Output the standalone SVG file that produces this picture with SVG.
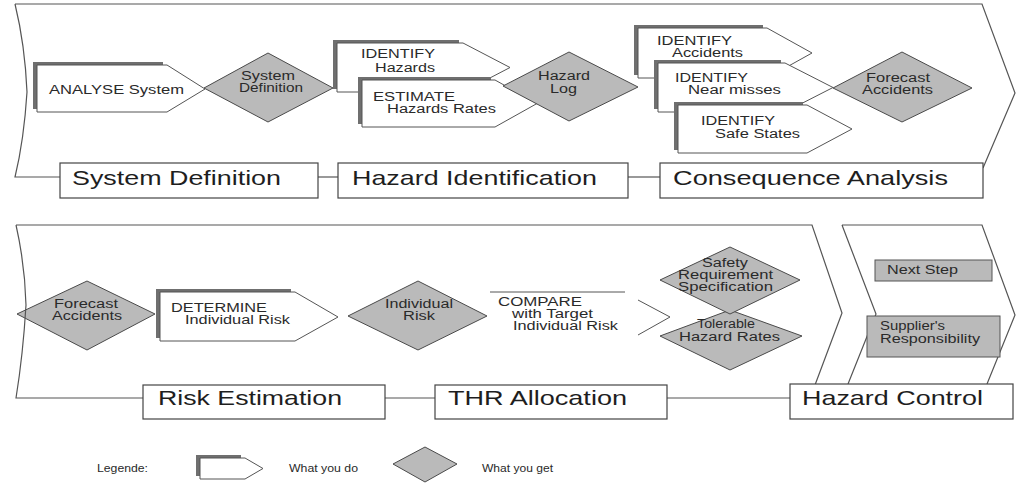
<svg xmlns="http://www.w3.org/2000/svg" width="1024" height="485" viewBox="0 0 1024 485">
<style>
text{font-family:"Liberation Sans",Arial,sans-serif;fill:#2a2a2a}
.s{font-size:12px}
.b{font-size:21px;fill:#1e1e1e}
.l{font-size:10px}
.frame{fill:none;stroke:#555;stroke-width:1.2}
.lab{fill:#fff;stroke:#444;stroke-width:1.2}
.do{fill:#fff;stroke:#555;stroke-width:1}
.sh{fill:#6f6f6f}
.get{fill:#bababa;stroke:#4a4a4a;stroke-width:1}
.gbox{fill:#bababa;stroke:#555;stroke-width:1}
.conn{stroke:#555;stroke-width:1.2;fill:none}
</style>
<rect width="1024" height="485" fill="#fff"/>

<!-- bottom-left forecast diamond (frame line shows through it) -->
<g id="n-forecast2">
<polygon class="get" points="17,314 87,281 155,314 87,350"/>
<text class="s" x="54" y="308" textLength="64" lengthAdjust="spacingAndGlyphs">Forecast</text>
<text class="s" x="52" y="320" textLength="70" lengthAdjust="spacingAndGlyphs">Accidents</text>
</g>

<g id="frames">
<path class="frame" d="M15,4 L982,4 L1015,93 L983,168 M15,4 Q25,45 27,92 Q24,140 15,177 L60,177"/>
<path class="frame" d="M16,225 L812,225 L842,313 L815,385 M16,225 Q25,265 26,305 Q23,355 16,398 L143,398"/>
<path class="frame" d="M842,225 L982,225 L1015,315 L987,384 M842,225 L876,314 L848,384"/>
</g>

<g id="connectors">
<line class="conn" x1="318" y1="177" x2="338" y2="177"/>
<line class="conn" x1="628" y1="177" x2="660" y2="177"/>
<line class="conn" x1="385" y1="398" x2="435" y2="398"/>
<line class="conn" x1="667" y1="398" x2="790" y2="398"/>
</g>

<!-- stage labels -->
<g id="stage-system-definition">
<rect class="lab" x="60" y="163" width="258" height="35"/>
<text class="b" x="72" y="185" textLength="209" lengthAdjust="spacingAndGlyphs">System Definition</text>
</g>
<g id="stage-hazard-identification">
<rect class="lab" x="338" y="163" width="290" height="35"/>
<text class="b" x="352" y="185" textLength="245" lengthAdjust="spacingAndGlyphs">Hazard Identification</text>
</g>
<g id="stage-consequence-analysis">
<rect class="lab" x="660" y="163" width="323" height="35"/>
<text class="b" x="673" y="185" textLength="275" lengthAdjust="spacingAndGlyphs">Consequence Analysis</text>
</g>
<g id="stage-risk-estimation">
<rect class="lab" x="143" y="385" width="242" height="34"/>
<text class="b" x="158" y="405" textLength="184" lengthAdjust="spacingAndGlyphs">Risk Estimation</text>
</g>
<g id="stage-thr-allocation">
<rect class="lab" x="435" y="385" width="232" height="34"/>
<text class="b" x="448" y="405" textLength="179" lengthAdjust="spacingAndGlyphs">THR Allocation</text>
</g>
<g id="stage-hazard-control">
<rect class="lab" x="790" y="384" width="223" height="35"/>
<text class="b" x="802" y="405" textLength="181" lengthAdjust="spacingAndGlyphs">Hazard Control</text>
</g>

<!-- top row -->
<g id="n-analyse">
<rect class="sh" x="33" y="62" width="130" height="47"/>
<polygon class="do" points="37,65 167,65 205,89 167,112 37,112"/>
<text class="s" x="49" y="94" textLength="135" lengthAdjust="spacingAndGlyphs">ANALYSE System</text>
</g>
<g id="n-sysdef">
<polygon class="get" points="204,88 268,53 333,88 268,122"/>
<text class="s" x="241" y="80" textLength="54" lengthAdjust="spacingAndGlyphs">System</text>
<text class="s" x="239" y="92" textLength="64" lengthAdjust="spacingAndGlyphs">Definition</text>
</g>
<g id="n-identify-hazards">
<rect class="sh" x="333" y="40" width="126" height="49"/>
<polygon class="do" points="337,43 463,43 510,67.5 463,92 337,92"/>
<text class="s" x="361" y="58" textLength="74" lengthAdjust="spacingAndGlyphs">IDENTIFY</text>
<text class="s" x="375" y="72" textLength="60" lengthAdjust="spacingAndGlyphs">Hazards</text>
</g>
<g id="n-estimate">
<rect class="sh" x="358" y="77" width="133" height="47"/>
<polygon class="do" points="362,80 495,80 537,103.5 495,127 362,127"/>
<text class="s" x="373" y="101" textLength="82" lengthAdjust="spacingAndGlyphs">ESTIMATE</text>
<text class="s" x="387" y="113" textLength="109" lengthAdjust="spacingAndGlyphs">Hazards Rates</text>
</g>
<g id="n-hazard-log">
<polygon class="get" points="503,86 569,52 638,87 569,121"/>
<text class="s" x="538" y="80" textLength="52" lengthAdjust="spacingAndGlyphs">Hazard</text>
<text class="s" x="550" y="93" textLength="27" lengthAdjust="spacingAndGlyphs">Log</text>
</g>
<g id="n-identify-accidents">
<rect class="sh" x="634" y="25" width="129" height="50"/>
<polygon class="do" points="638,28 767,28 812,53 767,78 638,78"/>
<text class="s" x="657" y="45" textLength="75" lengthAdjust="spacingAndGlyphs">IDENTIFY</text>
<text class="s" x="672" y="57" textLength="71" lengthAdjust="spacingAndGlyphs">Accidents</text>
</g>
<g id="n-identify-near-misses">
<rect class="sh" x="654" y="60" width="127" height="49"/>
<polygon class="do" points="658,63 785,63 833,87.5 785,112 658,112"/>
<text class="s" x="675" y="82" textLength="73" lengthAdjust="spacingAndGlyphs">IDENTIFY</text>
<text class="s" x="688" y="94" textLength="93" lengthAdjust="spacingAndGlyphs">Near misses</text>
</g>
<g id="n-identify-safe-states">
<rect class="sh" x="674" y="102" width="129" height="48"/>
<polygon class="do" points="678,105 807,105 852,129 807,153 678,153"/>
<text class="s" x="701" y="125" textLength="74" lengthAdjust="spacingAndGlyphs">IDENTIFY</text>
<text class="s" x="715" y="138" textLength="85" lengthAdjust="spacingAndGlyphs">Safe States</text>
</g>
<g id="n-forecast1">
<polygon class="get" points="833,88 902,52 972,88 902,122"/>
<text class="s" x="866" y="82" textLength="64" lengthAdjust="spacingAndGlyphs">Forecast</text>
<text class="s" x="862" y="94" textLength="71" lengthAdjust="spacingAndGlyphs">Accidents</text>
</g>

<!-- bottom row -->
<g id="n-determine">
<rect class="sh" x="156" y="289" width="135" height="49"/>
<polygon class="do" points="160,292 295,292 338,317 295,341 160,341"/>
<text class="s" x="171" y="312" textLength="96" lengthAdjust="spacingAndGlyphs">DETERMINE</text>
<text class="s" x="185" y="324" textLength="105" lengthAdjust="spacingAndGlyphs">Individual Risk</text>
</g>
<g id="n-individual-risk">
<polygon class="get" points="348,316 418,281 487,316 418,350"/>
<text class="s" x="385" y="308" textLength="68" lengthAdjust="spacingAndGlyphs">Individual</text>
<text class="s" x="403" y="320" textLength="32" lengthAdjust="spacingAndGlyphs">Risk</text>
</g>
<g id="n-compare">
<polygon points="490,292 625,292 670,317 625,342 490,342" fill="#fff"/>
<path d="M490,292 L625,292 M638,300 L670,317 L638,335" fill="none" stroke="#555" stroke-width="1"/>
<text class="s" x="498" y="306" textLength="84" lengthAdjust="spacingAndGlyphs">COMPARE</text>
<text class="s" x="512" y="318" textLength="81" lengthAdjust="spacingAndGlyphs">with Target</text>
<text class="s" x="513" y="330" textLength="105" lengthAdjust="spacingAndGlyphs">Individual Risk</text>
</g>
<g id="n-tolerable">
<polygon class="get" points="660,336 730,310 802,336 730,370"/>
<text class="s" x="697" y="328" textLength="58" lengthAdjust="spacingAndGlyphs">Tolerable</text>
<text class="s" x="679" y="341" textLength="101" lengthAdjust="spacingAndGlyphs">Hazard Rates</text>
</g>
<g id="n-srs">
<polygon class="get" points="660,280 730,247 800,280 730,314"/>
<text class="s" x="702" y="267" textLength="46" lengthAdjust="spacingAndGlyphs">Safety</text>
<text class="s" x="678" y="279" textLength="95" lengthAdjust="spacingAndGlyphs">Requirement</text>
<text class="s" x="678" y="291" textLength="95" lengthAdjust="spacingAndGlyphs">Specification</text>
</g>
<g id="n-next-step">
<rect class="gbox" x="875" y="260" width="117" height="21"/>
<text class="s" x="887" y="274" textLength="71" lengthAdjust="spacingAndGlyphs">Next Step</text>
</g>
<g id="n-supplier">
<rect class="gbox" x="867" y="316" width="133" height="41"/>
<text class="s" x="880" y="330" textLength="65" lengthAdjust="spacingAndGlyphs">Supplier's</text>
<text class="s" x="880" y="343" textLength="100" lengthAdjust="spacingAndGlyphs">Responsibility</text>
</g>

<!-- legend -->
<g id="legend">
<text class="l" x="97" y="472" textLength="51" lengthAdjust="spacingAndGlyphs">Legende:</text>
<rect class="sh" x="196" y="455" width="45" height="21"/>
<polygon class="do" points="200,458 245,458 263,468.5 245,479 200,479"/>
<text class="l" x="289" y="472" textLength="69" lengthAdjust="spacingAndGlyphs">What you do</text>
<polygon class="get" points="393,464 425,447 457,464 425,482"/>
<text class="l" x="482" y="472" textLength="71" lengthAdjust="spacingAndGlyphs">What you get</text>
</g>
</svg>
